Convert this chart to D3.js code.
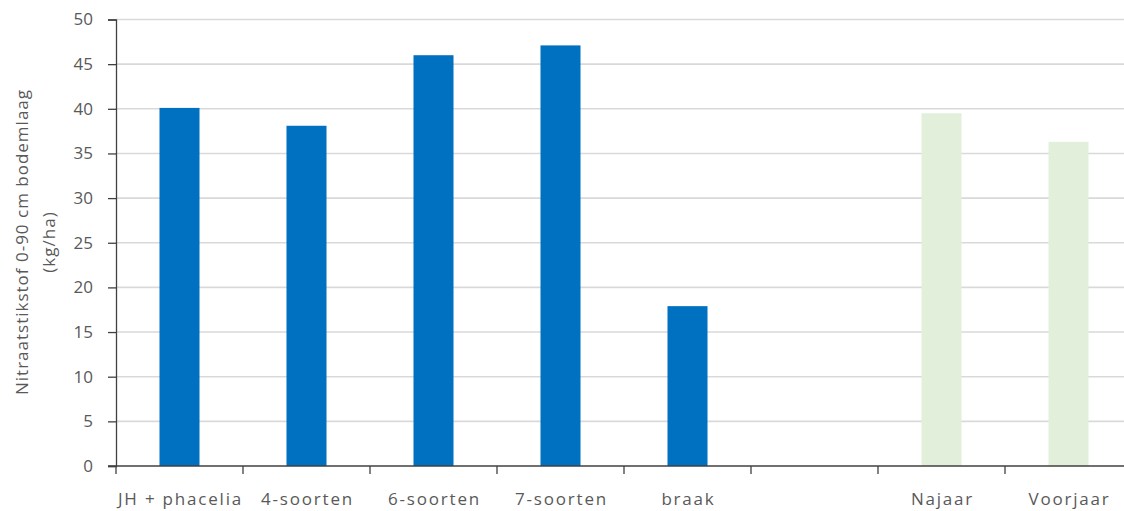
<!DOCTYPE html>
<html>
<head>
<meta charset="utf-8">
<script src="https://cdn.jsdelivr.net/npm/d3@7"></script>
<style>
  html, body { margin: 0; padding: 0; background: #fff; }
  svg { display: block; }
  text { font-family: "Open Sans", Lato, sans-serif; fill: #595959; }
</style>
</head>
<body>
<svg id="chart" width="1124" height="511"></svg>
<script>
// Nitrate nitrogen in the 0-90 cm soil layer per treatment (kg/ha)
const categories = ["JH + phacelia", "4-soorten", "6-soorten", "7-soorten", "braak", "", "Najaar", "Voorjaar"];
const values     = [40.1, 38.1, 46.0, 47.1, 17.9, null, 39.5, 36.3];
const groups     = ["mengsel", "mengsel", "mengsel", "mengsel", "mengsel", null, "seizoen", "seizoen"];
const yTicks     = [0, 5, 10, 15, 20, 25, 30, 35, 40, 45, 50];
const yTitle     = ["Nitraatstikstof 0-90 cm bodemlaag", "(kg/ha)"];

const colors = { mengsel: "#0070c0", seizoen: "#e2efda" };

const svg = d3.select("#chart");
const plot = { left: 116, right: 1132, top: 19.5, bottom: 466 };

const x = d3.scaleBand()
  .domain(d3.range(categories.length))
  .range([plot.left, plot.right])
  .paddingInner(0.685)
  .paddingOuter(0.3425);

const xBand = d3.scaleBand()
  .domain(d3.range(categories.length))
  .range([plot.left, plot.right]);

const y = d3.scaleLinear().domain([0, 50]).range([plot.bottom, plot.top]);

// horizontal gridlines
svg.append("g")
  .selectAll("line")
  .data(yTicks.filter(d => d > 0))
  .join("line")
  .attr("x1", plot.left).attr("x2", plot.right)
  .attr("y1", d => y(d)).attr("y2", d => y(d))
  .attr("stroke", "#d9d9d9").attr("stroke-width", 1.6);

// bars
svg.append("g")
  .selectAll("rect")
  .data(values.map((v, i) => ({ v, i })).filter(d => d.v !== null))
  .join("rect")
  .attr("x", d => x(d.i))
  .attr("width", x.bandwidth())
  .attr("y", d => y(d.v))
  .attr("height", d => y(0) - y(d.v))
  .attr("fill", d => colors[groups[d.i]]);

// y axis
const yAxis = svg.append("g")
  .attr("transform", `translate(${plot.left},0)`)
  .call(d3.axisLeft(y).tickValues(yTicks).tickSize(8).tickPadding(15));
yAxis.select(".domain").attr("stroke", "#404040").attr("stroke-width", 1.3);
yAxis.selectAll(".tick line").attr("stroke", "#404040").attr("stroke-width", 1.3);
yAxis.selectAll(".tick text").attr("font-size", 17).attr("fill", "#595959")
  .attr("font-family", "'Open Sans', Lato, sans-serif");

// x axis: ticks at band boundaries, labels centred in bands
const xg = svg.append("g").attr("transform", `translate(0,${plot.bottom})`);
xg.append("line")
  .attr("x1", plot.left - 8).attr("x2", plot.right)
  .attr("stroke", "#404040").attr("stroke-width", 1.3);
xg.selectAll("line.tick")
  .data(d3.range(categories.length))
  .join("line")
  .attr("class", "tick")
  .attr("x1", d => xBand(d)).attr("x2", d => xBand(d))
  .attr("y1", 0).attr("y2", 8)
  .attr("stroke", "#404040").attr("stroke-width", 1.3);
xg.selectAll("text")
  .data(categories)
  .join("text")
  .attr("x", (d, i) => xBand(i) + xBand.bandwidth() / 2 + 1)
  .attr("y", 39)
  .attr("text-anchor", "middle")
  .attr("font-size", 17)
  .attr("letter-spacing", 1.8)
  .text(d => d);

// y axis title, two lines
const yt = svg.append("text")
  .attr("transform", "translate(0,242) rotate(-90)")
  .attr("text-anchor", "middle")
  .attr("font-size", 17)
  .attr("letter-spacing", 1.0);
yt.selectAll("tspan")
  .data(yTitle)
  .join("tspan")
  .attr("x", 0)
  .attr("y", (d, i) => 28 + i * 27)
  .text(d => d);
</script>
</body>
</html>
